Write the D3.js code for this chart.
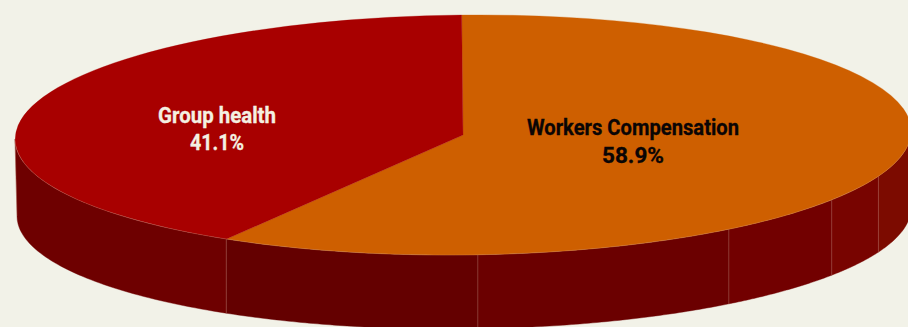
<!DOCTYPE html>
<html>
<head>
<meta charset="utf-8">
<script src="https://cdn.jsdelivr.net/npm/d3@7/dist/d3.min.js"></script>
<style>
html,body{margin:0;padding:0;background:#f2f2e8;overflow:hidden}
svg{display:block}
text{font-family:"Roboto",sans-serif;font-weight:700;text-anchor:middle}
</style>
</head>
<body>
<svg id="chart" width="908" height="327"></svg>
<script>
// Share of claims by line of cover
const categories = ["Workers Compensation", "Group health"];
const shares = [58.9, 41.1];
const sliceColors = ["#ce5f00", "#a80000"];
const labelColors = ["#0a0505", "#f4f0e2"];

// Rim panels: where each panel starts, in degrees clockwise from north, and its shade
const rimStops = [90, 112, 124.6, 143.6, 178.1, 211.9, 270];
const rimShades = ["#7c0b00", "#780400", "#720000", "#6b0000", "#640000", "#6e0000"];

const width = 908, height = 327;
const svg = d3.select("#chart");

// The top face and the bottom edge are two slightly tilted ellipses;
// unit-circle coordinates are carried through these scales
const tilt = -0.009;
const topX = d3.scaleLinear().domain([-1, 1]).range([15, 911]);
const topY = d3.scaleLinear().domain([-1, 1]).range([15, 255]);
const botX = d3.scaleLinear().domain([-1, 1]).range([17, 911]);
const botY = d3.scaleLinear().domain([-1, 1]).range([95, 329]);
const cx = topX(0);

const rad = d => d * Math.PI / 180;
const rimPath = d3.line();

function upperPoint(deg) {
  const a = rad(deg), x = topX(Math.sin(a));
  return [x, topY(-Math.cos(a)) + tilt * (x - cx)];
}

// Bottom edge point directly beneath the given rim angle
function lowerPoint(deg) {
  const a = rad(deg);
  const u = Math.max(-1, Math.min(1, botX.invert(topX(Math.sin(a)))));
  const x = botX(u);
  return [x, botY(Math.sqrt(1 - u * u)) + tilt * (x - cx)];
}

function rimPanel(a0, a1) {
  const steps = d3.range(0, 61).map(i => a0 + (a1 - a0) * i / 60);
  return rimPath(steps.map(upperPoint).concat(steps.slice().reverse().map(lowerPoint))) + "Z";
}

// Side wall
const rim = svg.append("g");
rimShades.forEach((shade, i) => {
  rim.append("path")
    .attr("d", rimPanel(rimStops[i], rimStops[i + 1]))
    .attr("fill", shade)
    .attr("stroke", shade)
    .attr("stroke-width", 0.4);
});

// Faint seams between the panels
rimStops.slice(1).forEach(deg => {
  const p = upperPoint(deg), q = lowerPoint(deg);
  rim.append("line")
    .attr("x1", p[0]).attr("y1", p[1])
    .attr("x2", q[0]).attr("y2", q[1])
    .attr("stroke", "#e8c8b0")
    .attr("stroke-opacity", 0.32)
    .attr("stroke-width", 0.7);
});

// Top face
const pie = d3.pie().sort(null).value(d => d).startAngle(rad(-0.15)).endAngle(rad(359.85));
const arc = d3.arc().innerRadius(0).outerRadius(1);
const sx = (topX(1) - topX(-1)) / 2, sy = (topY(1) - topY(-1)) / 2;
svg.append("g")
  .attr("transform", `matrix(${sx},${tilt * sx},0,${sy},${cx},${topY(0)})`)
  .selectAll("path")
  .data(pie(shares))
  .join("path")
  .attr("d", arc)
  .attr("fill", (d, i) => sliceColors[i])
  .attr("stroke", (d, i) => sliceColors[i])
  .attr("stroke-width", 0.3)
  .attr("vector-effect", "non-scaling-stroke");

// Pale highlight where the front of the top face meets the rim
svg.append("path")
  .attr("d", rimPath(d3.range(92, 270, 1).map(upperPoint)))
  .attr("fill", "none")
  .attr("stroke", "#f0c8a8")
  .attr("stroke-opacity", 0.3)
  .attr("stroke-width", 0.6);

// Labels, two lines each
const labelSpots = [
  { x: 633, y1: 134.5, y2: 163, w1: 212, w2: 62 },
  { x: 217, y1: 123, y2: 150, w1: 118, w2: 54 }
];
categories.forEach((name, i) => {
  const spot = labelSpots[i];
  svg.append("text").attr("x", spot.x).attr("y", spot.y1)
    .attr("font-size", 22).attr("fill", labelColors[i])
    .attr("stroke", labelColors[i]).attr("stroke-width", 0.3)
    .attr("textLength", spot.w1).attr("lengthAdjust", "spacingAndGlyphs").text(name);
  svg.append("text").attr("x", spot.x).attr("y", spot.y2)
    .attr("font-size", 22).attr("fill", labelColors[i])
    .attr("stroke", labelColors[i]).attr("stroke-width", 0.3)
    .attr("textLength", spot.w2).attr("lengthAdjust", "spacingAndGlyphs").text(shares[i].toFixed(1) + "%");
});
</script>
</body>
</html>
